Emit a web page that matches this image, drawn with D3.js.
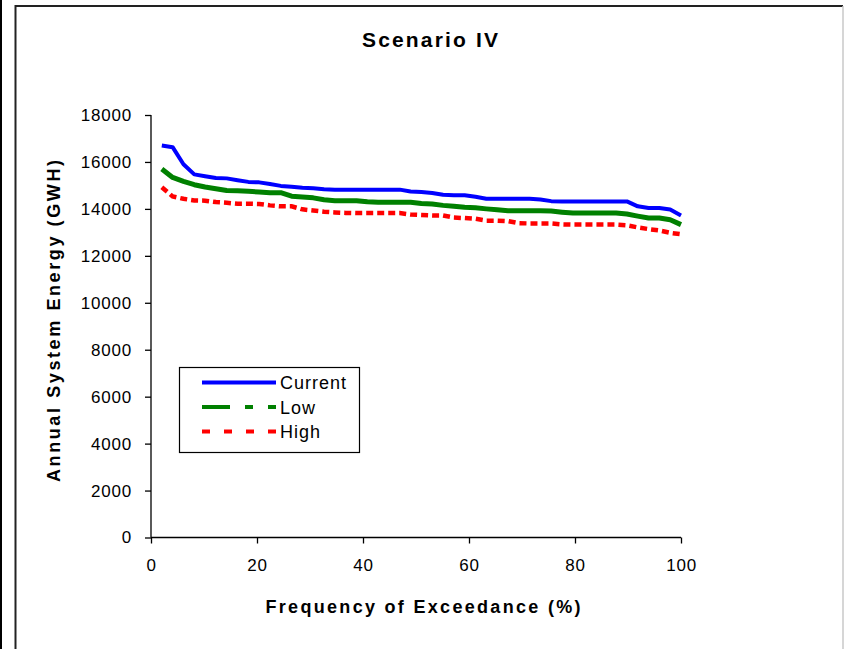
<!DOCTYPE html>
<html>
<head>
<meta charset="utf-8">
<script src="https://cdn.jsdelivr.net/npm/d3@7/dist/d3.min.js"></script>
<style>
  html, body { margin: 0; padding: 0; background: #fff; }
  svg { display: block; }
  text { font-family: Arial, "Liberation Sans", Helvetica, sans-serif; fill: #000; }
</style>
</head>
<body>
<svg id="chart" width="844" height="649"></svg>
<script>
// Frequency of exceedance (%) for each ranked year (49 years)
const exceedance = d3.range(1, 50).map(i => i * 100 / 49);

const currentGWH = [
  16700, 16630, 15900, 15470, 15390, 15320, 15300, 15220, 15150, 15130,
  15060, 14980, 14940, 14900, 14880, 14840, 14820, 14820, 14820, 14820,
  14820, 14820, 14820, 14740, 14720, 14680, 14600, 14580, 14580, 14520,
  14430, 14430, 14430, 14430, 14430, 14400, 14330, 14320, 14320, 14320,
  14320, 14320, 14320, 14320, 14110, 14040, 14040, 13970, 13720
];
const lowGWH = [
  15700, 15340, 15170, 15030, 14930, 14860, 14780, 14770, 14750, 14720,
  14690, 14690, 14540, 14510, 14470, 14390, 14350, 14350, 14350, 14300,
  14280, 14280, 14280, 14280, 14230, 14210, 14150, 14110, 14070, 14050,
  14000, 13960, 13920, 13920, 13920, 13920, 13910, 13860, 13820, 13820,
  13820, 13820, 13820, 13780, 13690, 13610, 13610, 13540, 13330
];
const highGWH = [
  14920, 14530, 14430, 14360, 14350, 14290, 14260, 14220, 14220, 14210,
  14150, 14110, 14110, 13980, 13930, 13880, 13850, 13830, 13820, 13820,
  13820, 13820, 13820, 13760, 13740, 13720, 13720, 13630, 13610, 13580,
  13500, 13500, 13480, 13390, 13380, 13380, 13380, 13340, 13330, 13330,
  13330, 13330, 13330, 13300, 13210, 13140, 13080, 12980, 12920
];

const seriesNames = ["Current", "Low", "High"];
const xTicks = [0, 20, 40, 60, 80, 100];
const yTicks = [0, 2000, 4000, 6000, 8000, 10000, 12000, 14000, 16000, 18000];

const svg = d3.select("#chart");

// page frame
svg.append("line").attr("x1", 1).attr("x2", 1).attr("y1", 0).attr("y2", 649)
  .attr("stroke", "#000").attr("stroke-width", 2);
svg.append("path").attr("d", "M15.5,649 V6 H843")
  .attr("fill", "none").attr("stroke", "#222").attr("stroke-width", 2);
svg.append("line").attr("x1", 843).attr("x2", 843).attr("y1", 6).attr("y2", 649)
  .attr("stroke", "#c8c8c8").attr("stroke-width", 1.5);

const plot = { left: 151, right: 681, top: 115, bottom: 537.5 };

const x = d3.scaleLinear().domain([0, 100]).range([plot.left, plot.right]);
const y = d3.scaleLinear().domain([0, 18000]).range([plot.bottom, plot.top]);

// axes
const yAxis = svg.append("g")
  .attr("transform", `translate(${plot.left},0)`)
  .call(d3.axisLeft(y).tickValues(yTicks).tickSize(6).tickPadding(13).tickFormat(d3.format("d")));
const xAxis = svg.append("g")
  .attr("transform", `translate(0,${plot.bottom})`)
  .call(d3.axisBottom(x).tickValues(xTicks).tickSize(6).tickPadding(15).tickFormat(d3.format("d")));
[yAxis, xAxis].forEach(g => {
  g.select(".domain").attr("stroke", "#000").attr("stroke-width", 1.3);
  g.selectAll(".tick line").attr("stroke", "#000").attr("stroke-width", 1.3);
  g.selectAll(".tick text").attr("font-size", 17).attr("fill", "#000")
    .attr("letter-spacing", "0.8px")
    .attr("font-family", "Arial, 'Liberation Sans', sans-serif");
});
// axis lines without end caps
yAxis.select(".domain").attr("d", `M0,${plot.top}V${plot.bottom}`);
xAxis.select(".domain").attr("d", `M${plot.left},0H${plot.right}`);

// series lines
const line = d3.line().x((d, i) => x(exceedance[i])).y(d => y(d));

svg.append("path").datum(lowGWH).attr("d", line)
  .attr("fill", "none").attr("stroke", "#008000").attr("stroke-width", 5)
  .attr("stroke-linejoin", "round");
svg.append("path").datum(highGWH).attr("d", line)
  .attr("fill", "none").attr("stroke", "#ff0000").attr("stroke-width", 4.5)
  .attr("stroke-dasharray", "7,4");
svg.append("path").datum(currentGWH).attr("d", line)
  .attr("fill", "none").attr("stroke", "#0000ff").attr("stroke-width", 4)
  .attr("stroke-linejoin", "round");

// titles
svg.append("text").attr("x", 430).attr("y", 47).attr("text-anchor", "middle")
  .attr("font-size", 21).attr("font-weight", "bold")
  .attr("textLength", 136).attr("lengthAdjust", "spacing")
  .text("Scenario IV");
svg.append("text").attr("x", 423).attr("y", 613).attr("text-anchor", "middle")
  .attr("font-size", 18).attr("font-weight", "bold")
  .attr("textLength", 315).attr("lengthAdjust", "spacing")
  .text("Frequency of Exceedance (%)");
svg.append("text").attr("transform", "translate(60,321) rotate(-90)")
  .attr("text-anchor", "middle")
  .attr("font-size", 18).attr("font-weight", "bold")
  .attr("textLength", 322).attr("lengthAdjust", "spacing")
  .text("Annual System Energy (GWH)");

// legend
const legend = svg.append("g");
legend.append("rect").attr("x", 179.5).attr("y", 367.5).attr("width", 180).attr("height", 85)
  .attr("fill", "#fff").attr("stroke", "#000").attr("stroke-width", 1.2);
const legendStyles = [
  { color: "#0000ff", width: 4, dash: null },
  { color: "#008000", width: 4, dash: "28,15,8,15,9" },
  { color: "#ff0000", width: 4, dash: "8,14" }
];
seriesNames.forEach((name, i) => {
  const ly = 382.5 + i * 24.5;
  const s = legendStyles[i];
  legend.append("line").attr("x1", 202).attr("x2", 276).attr("y1", ly).attr("y2", ly)
    .attr("stroke", s.color).attr("stroke-width", s.width)
    .attr("stroke-dasharray", s.dash);
  legend.append("text").attr("x", 280).attr("y", ly + 6.5)
    .attr("font-size", 18).attr("letter-spacing", "1px").text(name);
});
</script>
</body>
</html>
